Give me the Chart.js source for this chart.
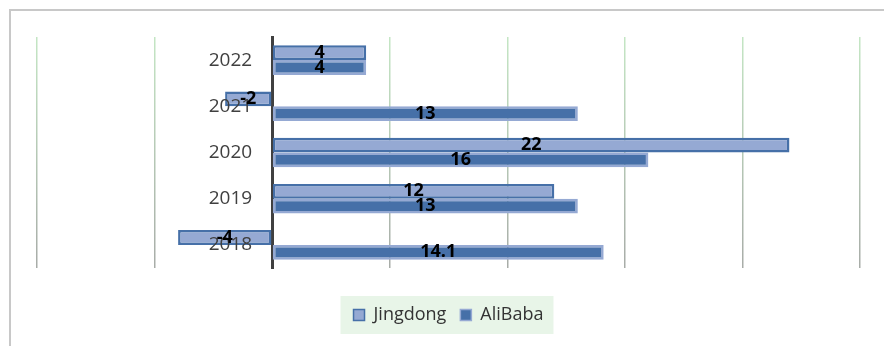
<!DOCTYPE html>
<html>
<head>
<meta charset="utf-8">
<script src="https://cdn.jsdelivr.net/npm/chart.js@4/dist/chart.umd.min.js"></script>
<style>
  html, body { margin: 0; padding: 0; background: #fff; }
  #wrap { width: 884px; height: 346px; position: relative; }
</style>
</head>
<body>
<div id="wrap"><canvas id="chart"></canvas></div>
<script>
// Chart data
const years = ['2018', '2019', '2020', '2021', '2022'];
const jingdong = [-4, 12, 22, -2, 4];
const alibaba = [14.1, 13, 16, 13, 4];
const xMin = -10;
const xMax = 25;

const lightBlue = '#95a9d3';
const darkBlue = '#4670a8';

// Outer frame and legend background
const backdrop = {
    id: 'backdrop',
    beforeDraw(chart) {
        const ctx = chart.ctx;
        ctx.save();
        ctx.strokeStyle = '#c8c8c8';
        ctx.lineWidth = 2;
        ctx.strokeRect(10, 10, 900, 400);
        const boxes = chart.legend.legendHitBoxes;
        if (boxes && boxes.length) {
            const left = Math.min(...boxes.map(b => b.left));
            const right = Math.max(...boxes.map(b => b.left + b.width));
            const cy = boxes[0].top + boxes[0].height / 2;
            ctx.fillStyle = '#e8f5e8';
            ctx.fillRect(left - 13, cy - 19, right - left + 23, 38);
        }
        ctx.restore();
    }
};

// Category labels next to the zero line
const yearLabels = {
    id: 'yearLabels',
    afterDatasetsDraw(chart) {
        const ctx = chart.ctx;
        const y = chart.scales.y;
        const x0 = chart.scales.x.getPixelForValue(0);
        ctx.save();
        ctx.font = '19px "Open Sans"';
        ctx.fillStyle = '#404040';
        ctx.textAlign = 'right';
        ctx.textBaseline = 'middle';
        chart.data.labels.forEach((lab, i) => {
            ctx.fillText(lab, x0 - 20, y.getPixelForValue(i));
        });
        ctx.restore();
    }
};

// Value labels centred on each bar
const valueLabels = {
    id: 'valueLabels',
    afterDatasetsDraw(chart) {
        const ctx = chart.ctx;
        ctx.save();
        ctx.font = 'bold 18px "Open Sans"';
        ctx.fillStyle = '#000';
        ctx.textAlign = 'center';
        ctx.textBaseline = 'middle';
        chart.data.datasets.forEach((ds, i) => {
            chart.getDatasetMeta(i).data.forEach((bar, j) => {
                const x = (bar.x + bar.base) / 2;
                ctx.fillText(String(ds.data[j]), x, bar.y);
            });
        });
        ctx.restore();
    }
};

function gridColor(context) {
    const area = context.chart.chartArea;
    if (!area) return '#c9dec9';
    const g = context.chart.ctx.createLinearGradient(0, area.top, 0, area.bottom);
    g.addColorStop(0, '#c4e6c4');
    g.addColorStop(1, '#a8aca8');
    return g;
}

new Chart(document.getElementById('chart'), {
    type: 'bar',
    data: {
        labels: years,
        datasets: [{
            label: 'Jingdong',
            data: jingdong,
            backgroundColor: lightBlue,
            borderColor: darkBlue,
            borderWidth: 2.5,
            borderSkipped: false
        }, {
            label: 'AliBaba',
            data: alibaba,
            backgroundColor: darkBlue,
            borderColor: lightBlue,
            borderWidth: 2.5,
            borderSkipped: false
        }]
    },
    options: {
        indexAxis: 'y',
        responsive: true,
        maintainAspectRatio: false,
        animation: false,
        layout: { padding: { left: 37, right: 24, top: 37, bottom: 12 } },
        datasets: { bar: { categoryPercentage: 0.64, barPercentage: 1 } },
        scales: {
            x: {
                min: xMin,
                max: xMax,
                afterFit: scale => { scale.height = 24; },
                ticks: { display: false, stepSize: 5 },
                grid: { color: gridColor, lineWidth: 1.5, drawTicks: false },
                border: { display: false }
            },
            y: {
                reverse: true,
                position: { x: 0 },
                grid: { display: false, drawTicks: false },
                border: { display: true, color: '#404040', width: 3 },
                ticks: { display: false }
            }
        },
        plugins: {
            legend: {
                position: 'bottom',
                labels: {
                    boxWidth: 11,
                    boxHeight: 11,
                    padding: 14,
                    color: '#333',
                    font: { family: '"Open Sans"', size: 18 },
                    generateLabels(chart) {
                        const items = Chart.defaults.plugins.legend.labels.generateLabels(chart);
                        items.forEach(it => { it.lineWidth = 1.5; });
                        return items;
                    }
                }
            },
            tooltip: { enabled: false }
        }
    },
    plugins: [backdrop, yearLabels, valueLabels]
});
</script>
</body>
</html>
